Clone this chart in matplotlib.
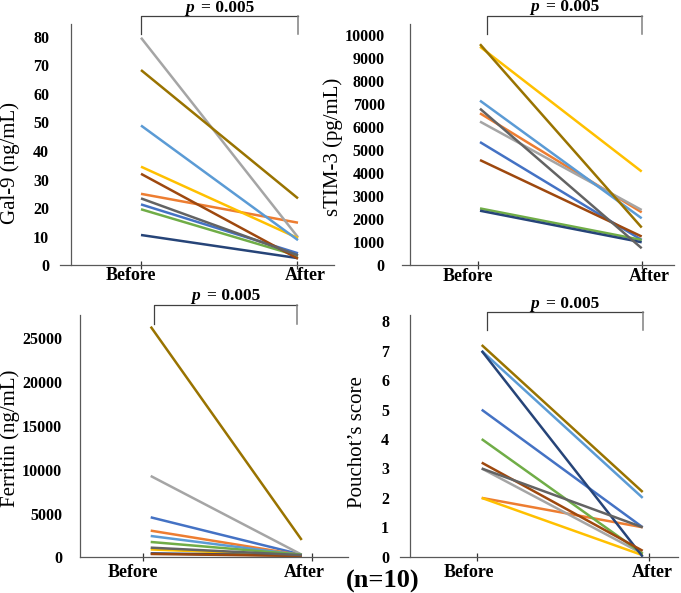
import matplotlib
matplotlib.use("Agg")
import matplotlib.pyplot as plt

plt.rcParams['font.family'] = ['Liberation Serif', 'DejaVu Serif']

# ---------------- data ----------------
categories = ["Before", "After"]
series_colors = ["#4472C4", "#ED7D31", "#A5A5A5", "#FFC000", "#5B9BD5",
                 "#70AD47", "#264478", "#9E480E", "#636363", "#997300"]

gal9_before = [21.3, 25.0, 79.6, 34.5, 48.9, 19.6, 10.6, 32.0, 23.4, 68.3]
gal9_after = [4.2, 14.9, 9.8, 9.5, 8.8, 3.3, 2.5, 2.3, 3.5, 23.4]
gal9_ticks = [0, 10, 20, 30, 40, 50, 60, 70, 80]

stim3_before = [5350, 6600, 6240, 9490, 7150, 2470, 2370, 4570, 6800, 9600]
stim3_after = [1100, 2300, 2400, 4070, 2040, 1100, 1000, 1250, 740, 1640]
stim3_ticks = [0, 1000, 2000, 3000, 4000, 5000, 6000, 7000, 8000, 9000, 10000]

ferritin_before = [4566, 3044, 9285, 900, 2435, 1750, 450, 380, 1100, 26330]
ferritin_after = [300, 250, 300, 200, 250, 300, 200, 150, 250, 1980]
ferritin_ticks = [0, 5000, 10000, 15000, 20000, 25000]

pouchot_before = [5, 2, 3, 2, 7, 4, 7, 3.2, 3, 7.2]
pouchot_after = [1, 1, 0.1, 0.05, 2, 0.1, 0.0, 0.2, 1, 2.2]
pouchot_ticks = [0, 1, 2, 3, 4, 5, 6, 7, 8]

p_value_text = "= 0.005"
n_text = "(n=10)"

# ---------------- layout (pixels) ----------------
W, H = 681, 593
fig = plt.figure(figsize=(W / 100, H / 100), dpi=100)
fig.patch.set_facecolor("white")

panels = [
    dict(before=gal9_before, after=gal9_after, yt=gal9_ticks, ylabel="Gal-9 (ng/mL)",
         l=60, r=334, t=24, b=265.3, spine=71, x0=141, x1=298, ytop=84.4,
         ticks=(141, 296.7), labels=(130.5, 305), xpad=1.5, ypad=15.8,
         br=(141, 298, 16, 34), yl=(10, 163)),
    dict(before=stim3_before, after=stim3_after, yt=stim3_ticks, ylabel="sTIM-3 (pg/mL)",
         l=401.7, r=674, t=24, b=265.3, spine=409.7, x0=480, x1=641.7, ytop=10477,
         ticks=(477.7, 641.7), labels=(467.7, 649), xpad=2.0, ypad=18,
         br=(487, 641.7, 15.7, 34.3), yl=(333, 147)),
    dict(before=ferritin_before, after=ferritin_after, yt=ferritin_ticks, ylabel="Ferritin (ng/mL)",
         l=80, r=348, t=315, b=557.3, spine=80, x0=150.7, x1=301.7, ytop=27660,
         ticks=(142.7, 311.7), labels=(133.3, 304.7), xpad=4.5, ypad=13,
         br=(153.7, 297, 305, 324), yl=(10, 438)),
    dict(before=pouchot_before, after=pouchot_after, yt=pouchot_ticks, ylabel="Pouchot\u2019s score",
         l=400, r=678, t=315, b=556.7, spine=410, x0=481.7, x1=642.7, ytop=8.22,
         ticks=(477.3, 649), labels=(469, 652), xpad=5.5, ypad=15,
         br=(486.7, 643.3, 312.3, 330), yl=(358, 442)),
]

axis_color = "#595959"
x_pos = [0, 1]

for P in panels:
    l, r, t, b = P["l"], P["r"], P["t"], P["b"]
    ax = fig.add_axes([l / W, 1 - b / H, (r - l) / W, (b - t) / H])
    ax.set_facecolor("none")
    unit = P["x1"] - P["x0"]
    to_x = lambda px: (px - P["x0"]) / unit
    to_y = lambda py: (b - py) / (b - t) * P["ytop"]
    ax.set_xlim(to_x(l), to_x(r))
    ax.set_ylim(0, P["ytop"])

    for c, v0, v1 in zip(series_colors, P["before"], P["after"]):
        ax.plot(x_pos, [v0, v1], color=c, lw=1.8, solid_capstyle="butt", clip_on=False)

    for s in ("top", "right"):
        ax.spines[s].set_visible(False)
    ax.spines["left"].set_position(("data", to_x(P["spine"])))
    for s in ("left", "bottom"):
        ax.spines[s].set_color(axis_color)
        ax.spines[s].set_linewidth(0.9)

    ax.set_yticks(P["yt"])
    ax.set_yticklabels([str(v) for v in P["yt"]], fontsize=11.5, fontweight="bold")
    ax.tick_params(axis="y", length=0, pad=P["ypad"])

    ax.set_xticks([to_x(p) for p in P["labels"]])
    ax.set_xticklabels(categories, fontsize=13, fontweight="bold")
    ax.tick_params(axis="x", which="major", length=0, pad=P["xpad"])
    ax.set_xticks([to_x(p) for p in P["ticks"]], minor=True)
    ax.tick_params(axis="x", which="minor", length=6, width=0.9,
                   direction="inout", color="#333333")

    fig.text(P["yl"][0] / W, 1 - P["yl"][1] / H, P["ylabel"], rotation=90,
             ha="center", va="center", fontsize=15)

    # significance bracket
    bx0, bx1, btop, bbot = P["br"]
    ax.plot([to_x(bx0), to_x(bx0), to_x(bx1)], [to_y(bbot), to_y(btop), to_y(btop)],
            color="#404040", lw=0.9, clip_on=False)
    ax.plot([to_x(bx1), to_x(bx1)], [to_y(btop), to_y(bbot)],
            color="#808080", lw=1.1, clip_on=False)
    cx = (bx0 + bx1) / 2
    ty = btop - 8.5
    half = 34.5
    fig.text((cx - half) / W, 1 - ty / H, "p", ha="left", va="center",
             fontsize=12.5, fontweight="bold", fontstyle="italic")
    fig.text((cx + half) / W, 1 - ty / H, p_value_text, ha="right", va="center",
             fontsize=12.5, fontweight="bold")

fig.text(383 / W, 1 - 581 / H, n_text, ha="center", va="center",
         fontsize=19, fontweight="bold")

fig.savefig("out.png", dpi=100, facecolor="white")
